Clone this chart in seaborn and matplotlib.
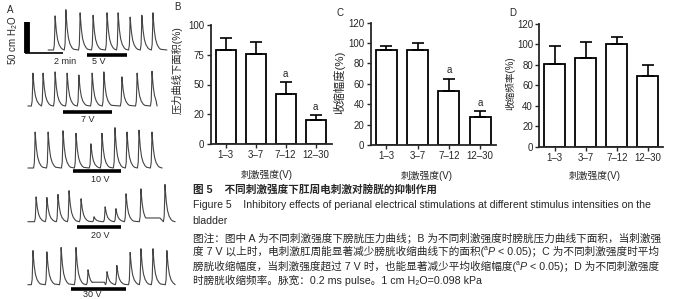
import numpy as np
import pandas as pd
import matplotlib
matplotlib.use('Agg')
import matplotlib.pyplot as plt
import seaborn as sns

# --- data: panels B-D (mean and upper SEM, % of control) ---
intensity = ['1–3', '3–7', '7–12', '12–30']

area_mean = [79, 76, 42, 20]
area_sem = [10, 10, 10, 4]
amp_mean = [93, 93, 53, 27]
amp_sem = [4, 7, 12, 6]
freq_mean = [81, 87, 100, 69]
freq_sem = [17, 15, 7, 11]
area_sig = ['', '', 'a', 'a']
amp_sig = ['', '', 'a', 'a']
freq_sig = ['', '', '', '']

# --- data: panel A pressure traces (time in s, height above baseline in cm H2O) ---
trace_volts = ['5 V', '7 V', '10 V', '20 V', '30 V']
trace_start = [152, 88, 88, 88, 88]
trace_end = [527, 496, 512, 553, 553]

peak_t_5v = [174, 208, 253, 294, 338, 373, 411, 448, 483]
peak_h_5v = [55, 65, 60, 56, 60, 60, 53, 56, 60]
peak_t_7v = [104, 136, 174, 212, 249, 291, 328, 385, 433, 480]
peak_h_7v = [53, 53, 55, 53, 50, 53, 55, 47, 53, 56]
peak_t_10v = [111, 152, 199, 240, 287, 322, 363, 401, 439, 480]
peak_h_10v = [58, 58, 60, 56, 39, 56, 65, 58, 61, 58]
peak_t_20v = [114, 148, 183, 218, 256, 297, 332, 366, 398, 445, 521]
peak_h_20v = [40, 39, 44, 50, 37, 8, 24, 21, 45, 53, 60]
peak_t_30v = [104, 148, 193, 240, 278, 338, 369, 411, 445, 483, 527]
peak_h_30v = [55, 53, 60, 60, 24, 21, 31, 52, 58, 58, 55]

# raised tone between contractions (start s, end s, level cm H2O)
tone_20v = (461, 505, 6)
tone_30v = (292, 330, 4)

# stimulation periods (s)
stim_on = [275, 199, 231, 243, 224]
stim_off = [401, 354, 382, 382, 398]

# shape of one contraction: offset (s), fraction of peak
wave_t = [-5, -2.5, -1, 0, 1.5, 4, 8, 13, 19, 24]
wave_h = [0, 0.15, 0.6, 1, 0.82, 0.55, 0.3, 0.15, 0.06, 0.02]

peak_t = [peak_t_5v, peak_t_7v, peak_t_10v, peak_t_20v, peak_t_30v]
peak_h = [peak_h_5v, peak_h_7v, peak_h_10v, peak_h_20v, peak_h_30v]
tones = [None, None, None, tone_20v, tone_30v]

# --- layout helpers (reference pixels -> panel A data units) ---
W, H = 683, 299
S_PER_PX = 120 / 38.0
CM_PER_PX = 50 / 31.0


def pa(x, y):
    return x * S_PER_PX, (H - y) * CM_PER_PX


def fx(x):
    return x / W


def fy(y):
    return 1 - y / H


def trace_xy(t0, t1, tps, hs, tone):
    xs, ys = [t0], [0.0]
    for tp, h in zip(tps, hs):
        for off, r in zip(wave_t, wave_h):
            t = tp + off
            if t0 < t < t1:
                xs.append(t)
                ys.append(h * r)
    xs.append(t1)
    ys.append(0.0)
    xs, ys = np.array(xs, float), np.array(ys, float)
    if tone is not None:
        a, b, lvl = tone
        m = (xs >= a) & (xs <= b)
        ys[m] = np.maximum(ys[m], lvl)
        for t in (a, b):
            i = np.searchsorted(xs, t)
            xs = np.insert(xs, i, t)
            ys = np.insert(ys, i, lvl)
    return xs, ys


sns.set_style('ticks')
plt.rcParams['font.family'] = ['Liberation Sans', 'Noto Sans CJK SC', 'DejaVu Sans']
plt.rcParams['mathtext.fontset'] = 'custom'
plt.rcParams['mathtext.rm'] = 'Liberation Sans'

fig = plt.figure(figsize=(6.83, 2.99), dpi=100)

# --- Panel A ---
axa = fig.add_axes([0, 0, 175 / W, 1])
axa.set_xlim(0, 175 * S_PER_PX)
axa.set_ylim(0, H * CM_PER_PX)
axa.axis('off')

row_base_px = [50, 106, 168, 221.7, 284.7]
row_bar_px = [4.5, 6, 3, 5, 4]
row_lab_px = [(99, 61), (87.5, 120), (100, 179), (100, 235.7), (92.5, 294.7)]

for k in range(5):
    base = pa(0, row_base_px[k])[1]
    xs, ys = trace_xy(trace_start[k], trace_end[k], peak_t[k], peak_h[k], tones[k])
    axa.plot(xs, ys + base, color='#444444', lw=0.8, clip_on=False)
    yb = base - row_bar_px[k] * CM_PER_PX
    axa.plot([stim_on[k], stim_off[k]], [yb, yb], color='black', lw=2.6,
             solid_capstyle='butt')
    lx, ly = pa(*row_lab_px[k])
    axa.text(lx, ly, trace_volts[k], ha='center', va='center', fontsize=6.5)

# scale bar: 50 cm H2O, 2 min
x0, y0 = pa(25, 52.5)
axa.plot([x0, x0 + 120], [y0, y0], color='black', lw=1.2, solid_capstyle='butt')
axa.plot([x0 + 2.5 * S_PER_PX] * 2, [y0, y0 + 50], color='black', lw=4.2,
         solid_capstyle='butt')
axa.text(*pa(65, 62), '2 min', ha='center', va='center', fontsize=6.5)
axa.text(*pa(13, 40), '50 cm H$_2$O', ha='center', va='center', fontsize=7,
         rotation=90)
fig.text(fx(10), fy(10), 'A', ha='center', va='center', fontsize=7)


# --- Panels B-D ---
def bar_panel(rect, means, sems, sig, ymax, yticks, yticklabels, ylabel,
              ylabel_size, ylabel_xy, xlabel_xy, xmax):
    ax = fig.add_axes(rect)
    df = pd.DataFrame({'intensity': intensity, 'value': means})
    sns.barplot(data=df, x='intensity', y='value', ax=ax, color='white',
                saturation=1, edgecolor='black', linewidth=1.3, width=0.67)
    ax.errorbar(range(len(means)), means, yerr=[np.zeros(len(sems)), sems],
                fmt='none', ecolor='black', elinewidth=1.2, capsize=4.2,
                capthick=1.2, zorder=3)
    for i, s in enumerate(sig):
        if s:
            ax.annotate(s, (i, means[i] + sems[i]), xytext=(0, 2.5),
                        textcoords='offset points', ha='center', va='bottom',
                        fontsize=7)
    ax.set_xlim(-0.5, xmax)
    ax.set_ylim(0, ymax)
    ax.set_yticks(yticks)
    ax.set_yticklabels(yticklabels)
    ax.tick_params(labelsize=7, length=3, width=1, pad=1.5)
    ax.set_ylabel(ylabel, fontsize=ylabel_size)
    ax.set_xlabel('刺激强度(V)', fontsize=7)
    ax.yaxis.set_label_coords(*ylabel_xy)
    ax.xaxis.set_label_coords(*xlabel_xy)
    for sp in ('left', 'bottom'):
        ax.spines[sp].set_linewidth(1.3)
    sns.despine(ax=ax)
    return ax


bar_panel([fx(210.7), fy(144), 121.5 / W, 119 / H], area_mean, area_sem, area_sig,
          100, [0, 25, 50, 75, 100], ['0', '20', '50', '75', '100'],
          '压力曲线下面积(%)', 7.4, (-0.227, 0.62), (0.46, -0.22), 3.55)
bar_panel([fx(370.7), fy(145), 125 / W, 122.3 / H], amp_mean, amp_sem, amp_sig,
          120, list(range(0, 121, 20)), [str(v) for v in range(0, 121, 20)],
          '收缩幅度(%)', 8.2, (-0.2, 0.51), (0.45, -0.21), 3.5)
bar_panel([fx(539.3), fy(146.7), 124 / W, 122.7 / H], freq_mean, freq_sem, freq_sig,
          120, list(range(0, 121, 20)), [str(v) for v in range(0, 121, 20)],
          '收缩频率(%)', 6.9, (-0.19, 0.52), (0.45, -0.196), 3.5)

fig.text(fx(177), fy(7), 'B', ha='center', va='center', fontsize=7)
fig.text(fx(340), fy(13), 'C', ha='center', va='center', fontsize=7)
fig.text(fx(513), fy(13), 'D', ha='center', va='center', fontsize=7)


# --- Caption ---
def line(y, pieces, size):
    first = fig.text(fx(192.7), fy(y), pieces[0][0], ha='left', va='center',
                     fontsize=size, **pieces[0][1])
    art = first
    for txt, kw in pieces[1:]:
        kw = dict(kw)
        dy = kw.pop('dy', 0)
        fs = kw.pop('fontsize', size)
        art = axa.annotate(txt, xy=(1, 0), xycoords=(art, first), xytext=(0, dy),
                           textcoords='offset points', ha='left', va='bottom',
                           fontsize=fs, annotation_clip=False, **kw)


cap = 7.65
line(189.3, [('图 5    不同刺激强度下肛周电刺激对膀胱的抑制作用', {'fontweight': 'bold'})], cap)
line(205, [('Figure 5    Inhibitory effects of perianal electrical stimulations at different stimulus intensities on the', {})], 7.6)
line(220.7, [('bladder', {})], 7.6)
line(237.3, [('图注：图中 A 为不同刺激强度下膀胱压力曲线；B 为不同刺激强度时膀胱压力曲线下面积，当刺激强', {})], cap)
line(251.7, [('度 7 V 以上时，电刺激肛周能显著减少膀胱收缩曲线下的面积(', {}),
             ('a', {'fontsize': 5, 'dy': 3.5}),
             ('P', {'style': 'italic'}),
             (' < 0.05)；C 为不同刺激强度时平均', {})], cap)
line(266, [('膀胱收缩幅度，当刺激强度超过 7 V 时，也能显著减少平均收缩幅度(', {}),
           ('a', {'fontsize': 5, 'dy': 3.5}),
           ('P', {'style': 'italic'}),
           (' < 0.05)；D 为不同刺激强度', {})], cap)
line(280, [('时膀胱收缩频率。脉宽：0.2 ms pulse。1 cm H₂O=0.098 kPa', {})], cap)

fig.savefig('out.png', dpi=100)
